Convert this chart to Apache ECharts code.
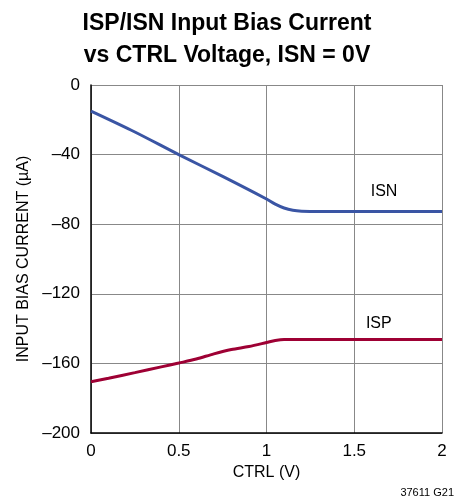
<!DOCTYPE html>
<html>
<head>
<meta charset="utf-8">
<script src="https://cdn.jsdelivr.net/npm/echarts@6/dist/echarts.min.js"></script>
<style>
html,body{margin:0;padding:0;background:#fff;}
#chart{width:466px;height:502px;}
</style>
</head>
<body>
<div id="chart"></div>
<script>
// 数据 (CTRL电压 V, 偏置电流 µA)
var ctrlIsn = [0, 0.25, 0.5, 0.75, 1, 1.05, 1.1, 1.15, 1.2, 1.3, 1.5, 2];
var isnVals = [-15, -27, -40, -52.5, -65.5, -68.5, -70.7, -72, -72.5, -72.7, -72.7, -72.7];
var ctrlIsp = [0, 0.1, 0.25, 0.4, 0.5, 0.6, 0.7, 0.8, 0.9, 1, 1.05, 1.1, 1.2, 2];
var ispVals = [-170.5, -168.5, -165.3, -162, -159.8, -157.5, -154.5, -152, -150.3, -148, -146.8, -146.2, -146.2, -146.3];
var xTicks = [0, 0.5, 1, 1.5, 2];
var yTicks = [0, -40, -80, -120, -160, -200];

function pairs(xs, ys) {
    var out = [];
    for (var i = 0; i < xs.length; i++) out.push([xs[i], ys[i]]);
    return out;
}

var font = "'Liberation Sans', sans-serif";
var myChart = echarts.init(document.getElementById("chart"));

function tag(txt, x, y) {
    return {
        symbol: 'circle',
        symbolSize: 1,
        itemStyle: {color: 'rgba(0,0,0,0)'},
        label: {show: true, position: 'inside', formatter: txt, fontFamily: font, fontSize: 16, color: '#000'},
        data: [{coord: [x, y]}]
    };
}

var option = {
    backgroundColor: '#fff',
    animation: false,
    title: {
        text: 'ISP/ISN Input Bias Current\nvs CTRL Voltage, ISN = 0V',
        left: 222,
        top: 3,
        textAlign: 'center',
        textStyle: {
            fontFamily: font,
            fontWeight: 'bold',
            fontSize: 23,
            lineHeight: 32,
            color: '#000'
        }
    },
    graphic: [{
        type: 'text',
        right: 12,
        bottom: 4,
        style: {text: '37611 G21', font: '11px ' + font, fill: '#000'}
    }],
    grid: {left: 91, right: 24, top: 85, bottom: 69},
    xAxis: {
        type: 'value',
        min: 0, max: 2, interval: 0.5,
        name: 'CTRL (V)',
        nameLocation: 'middle',
        nameGap: 30,
        nameTextStyle: {fontFamily: font, fontSize: 16, color: '#000'},
        axisLine: {show: true, onZero: false, lineStyle: {color: '#000', width: 1.5}},
        axisTick: {show: false},
        axisLabel: {
            fontFamily: font, fontSize: 17, color: '#000', margin: 10,
            formatter: function (v) { return xTicks.indexOf(v) >= 0 ? String(v) : ''; }
        },
        splitLine: {show: true, lineStyle: {color: '#888', width: 1}}
    },
    yAxis: {
        type: 'value',
        min: -200, max: 0, interval: 40,
        name: 'INPUT BIAS CURRENT (µA)',
        nameLocation: 'middle',
        nameGap: 55,
        nameTextStyle: {fontFamily: font, fontSize: 16, color: '#000'},
        axisLine: {show: true, onZero: false, lineStyle: {color: '#000', width: 1.5}},
        axisTick: {show: false},
        axisLabel: {
            fontFamily: font, fontSize: 17, color: '#000', margin: 11,
            formatter: function (v) {
                if (yTicks.indexOf(v) < 0) return '';
                return v < 0 ? '\u2013' + Math.abs(v) : String(v);
            }
        },
        splitLine: {show: true, lineStyle: {color: '#888', width: 1}}
    },
    series: [
        {
            name: 'ISN',
            type: 'line',
            data: pairs(ctrlIsn, isnVals),
            smooth: 0.3,
            showSymbol: false,
            lineStyle: {color: '#3a55a4', width: 3},
            markPoint: tag('ISN', 1.67, -61)
        },
        {
            name: 'ISP',
            type: 'line',
            data: pairs(ctrlIsp, ispVals),
            smooth: 0.3,
            showSymbol: false,
            lineStyle: {color: '#9e0034', width: 3},
            markPoint: tag('ISP', 1.64, -137)
        }
    ]
};

myChart.setOption(option);
</script>
</body>
</html>
